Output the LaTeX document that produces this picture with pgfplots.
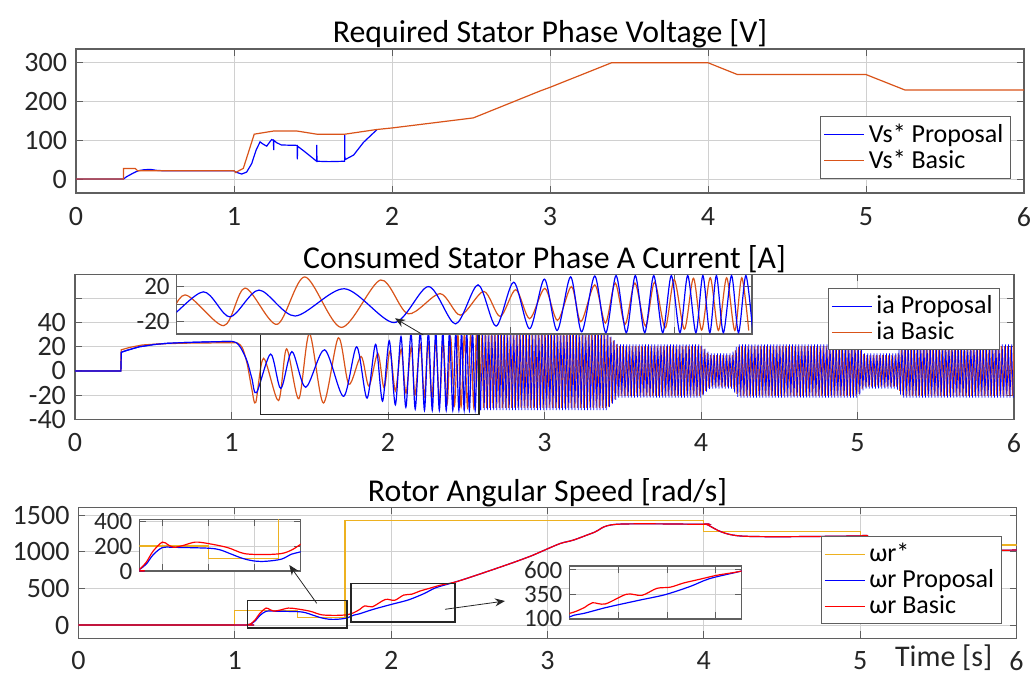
\documentclass[border=0pt]{standalone}
\usepackage{fontspec}
\setmainfont{Carlito}
\usepackage{pgfplots}
\pgfplotsset{compat=1.18}
\usepackage{pgfplotstable}
\usetikzlibrary{arrows.meta}

\definecolor{cProp}{RGB}{0,0,255}
\definecolor{cBasic}{RGB}{217,83,25}
\definecolor{cRef}{RGB}{237,177,32}
\definecolor{cRed}{RGB}{255,0,0}
\definecolor{cGrid}{RGB}{208,208,208}
\definecolor{cAx}{RGB}{95,95,95}

% ---- top panel: required stator phase voltage
\pgfplotstableread{
t v
0 0
0.30 0
0.32 6
0.36 15
0.394 21.5
0.43 24
0.47 25
0.51 22.5
0.55 21.5
1.0 21.5
1.01 18
1.049 13
1.08 18
1.112 40
1.14 75
1.165 96
1.185 90
1.207 85
1.225 95
1.238 102
1.25 100
1.251 75
1.252 100
1.27 94
1.30 88
1.40 87
1.401 51
1.402 85
1.45 70
1.523 46
1.524 88
1.525 46
1.60 45
1.70 46
1.701 114
1.702 50
1.757 62
1.82 95
1.903 127
}\vsProp
\pgfplotstableread{
t v
0 0
0.30 0
0.30 27.5
0.375 27.5
0.39 21.5
1.0 21.5
1.01 17
1.059 27.6
1.128 116
1.249 124
1.40 124
1.523 116
1.703 116
1.903 128
2.0 132
2.515 158
2.94 228
3.0 237
3.39 300.5
4.0 300.5
4.186 270
5.0 270
5.247 230
6.0 230
}\vsBasic

% ---- middle panel: phase A current
\pgfplotstableread{
t v
0 0
0.293 0
0.296 15.5
0.33 17
0.41 20
0.5 21.8
0.58 22.8
0.7 23.5
0.84 24
1.0 24.5
}\iaPropA
\pgfplotstableread{
t v
1.0 24.5
1.03 23.5
1.06 19
1.10 8
1.13 -6
1.16 -18
1.25 14
1.315 -14.5
1.386 16
1.474 -13.5
1.595 17.5
1.716 -21
1.80 20
1.866 -22.5
1.921 22
1.965 -25
2.008 25
2.047 -28
2.083 28.5
2.114 -30
2.147 31
2.174 -31.5
2.206 32
2.233 -32.5
2.258 32.5
2.283 -32.5
2.305 32.5
2.328 -32.5
2.35 32.5
2.372 -32.5
2.393 32.5
2.414 -32.5
2.433 32.5
2.453 -32.5
2.47 32.5
2.487 -32.5
2.503 32.5
2.52 -32.5
2.54 32.5
2.557 -32.5
2.575 32.5
2.592 -32.5
}\iaPropB
\pgfplotstableread[row sep=\\]{
t v\\
2.592 -32.5\\
2.605 32.5\\2.615 -32.5\\2.625 32.5\\2.635 -32.5\\2.645 32.5\\2.655 -32.5\\2.665 32.5\\2.675 -32.5\\2.685 32.5\\2.695 -32.5\\
2.705 32.5\\2.715 -32.5\\2.725 32.5\\2.735 -32.5\\2.745 32.5\\2.755 -32.5\\2.765 32.5\\2.775 -32.5\\2.785 32.5\\2.795 -32.5\\
2.805 32.5\\2.815 -32.5\\2.825 32.5\\2.835 -32.5\\2.845 32.5\\2.855 -32.5\\2.865 32.5\\2.875 -32.5\\2.885 32.5\\2.895 -32.5\\
2.905 32.5\\2.915 -32.5\\2.925 32.5\\2.935 -32.5\\2.945 32.5\\2.955 -32.5\\2.965 32.5\\2.975 -32.5\\2.985 32.5\\2.995 -32.5\\
3.005 32.5\\3.015 -32.5\\3.025 32.5\\3.035 -32.5\\3.045 32.5\\3.055 -32.5\\3.065 32.5\\3.075 -32.5\\3.085 32.5\\3.095 -32.5\\
3.105 32.5\\3.115 -32.5\\3.125 32.5\\3.135 -32.5\\3.145 32.5\\3.155 -32.5\\3.165 32.5\\3.175 -32.5\\3.185 32.5\\3.195 -32.5\\
3.205 32.5\\3.215 -32.5\\3.225 32.5\\3.235 -32.5\\3.245 32.5\\3.255 -32.5\\3.265 32.5\\3.275 -32.5\\3.285 32.5\\3.295 -32.5\\
3.305 32.5\\3.315 -32.5\\3.325 32.5\\3.335 -32.5\\3.345 32.5\\3.355 -32.5\\3.365 32.5\\3.375 -32.5\\3.385 32.5\\3.395 -32.5\\
3.405 31.5\\3.415 -30\\3.425 28.5\\3.435 -27\\3.445 25.5\\3.455 -24\\3.465 22.5\\3.475 -22\\3.485 22\\3.495 -22\\
3.505 22\\3.515 -22\\3.525 22\\3.535 -22\\3.545 22\\3.555 -22\\3.565 22\\3.575 -22\\3.585 22\\3.595 -22\\
3.605 22\\3.615 -22\\3.625 22\\3.635 -22\\3.645 22\\3.655 -22\\3.665 22\\3.675 -22\\3.685 22\\3.695 -22\\
3.705 22\\3.715 -22\\3.725 22\\3.735 -22\\3.745 22\\3.755 -22\\3.765 22\\3.775 -22\\3.785 22\\3.795 -22\\
3.805 22\\3.815 -22\\3.825 22\\3.835 -22\\3.845 22\\3.855 -22\\3.865 22\\3.875 -22\\3.885 22\\3.895 -22\\
3.905 22\\3.915 -22\\3.925 22\\3.935 -22\\3.945 22\\3.955 -22\\3.965 22\\3.975 -22\\3.985 22\\3.995 -22\\
4.005 21\\4.015 -20\\4.025 18.5\\4.035 -17\\4.045 16\\4.055 -15\\4.065 14.5\\4.075 -14.5\\4.085 14.5\\4.095 -14.5\\
4.105 14.5\\4.115 -14.5\\4.125 14.5\\4.135 -14.5\\4.145 14.5\\4.155 -14.5\\4.165 14.5\\4.175 -14.5\\4.185 14.5\\4.195 -14.5\\
4.205 16\\4.215 -18\\4.225 20\\4.235 -21.5\\4.245 22\\4.255 -22\\4.265 22\\4.275 -22\\4.285 22\\4.295 -22\\
4.305 22\\4.315 -22\\4.325 22\\4.335 -22\\4.345 22\\4.355 -22\\4.365 22\\4.375 -22\\4.385 22\\4.395 -22\\
4.405 22\\4.415 -22\\4.425 22\\4.435 -22\\4.445 22\\4.455 -22\\4.465 22\\4.475 -22\\4.485 22\\4.495 -22\\
4.505 22\\4.515 -22\\4.525 22\\4.535 -22\\4.545 22\\4.555 -22\\4.565 22\\4.575 -22\\4.585 22\\4.595 -22\\
4.605 22\\4.615 -22\\4.625 22\\4.635 -22\\4.645 22\\4.655 -22\\4.665 22\\4.675 -22\\4.685 22\\4.695 -22\\
4.705 22\\4.715 -22\\4.725 22\\4.735 -22\\4.745 22\\4.755 -22\\4.765 22\\4.775 -22\\4.785 22\\4.795 -22\\
4.805 22\\4.815 -22\\4.825 22\\4.835 -22\\4.845 22\\4.855 -22\\4.865 22\\4.875 -22\\4.885 22\\4.895 -22\\
4.905 22\\4.915 -22\\4.925 22\\4.935 -22\\4.945 22\\4.955 -22\\4.965 22\\4.975 -22\\4.985 22\\4.995 -22\\
5.005 21.5\\5.015 -19.5\\5.025 17.5\\5.035 -16\\5.045 14.5\\5.055 -14.5\\5.065 14.5\\5.075 -14.5\\5.085 14.5\\5.095 -14.5\\
5.105 14.5\\5.115 -14.5\\5.125 14.5\\5.135 -14.5\\5.145 14.5\\5.155 -14.5\\5.165 14.5\\5.175 -14.5\\5.185 14.5\\5.195 -14.5\\
5.205 14.5\\5.215 -14.5\\5.225 14.5\\5.235 -14.5\\5.245 14.5\\5.255 -15.5\\5.265 17.5\\5.275 -19.5\\5.285 21\\5.295 -22\\
5.305 22\\5.315 -22\\5.325 22\\5.335 -22\\5.345 22\\5.355 -22\\5.365 22\\5.375 -22\\5.385 22\\5.395 -22\\
5.405 22\\5.415 -22\\5.425 22\\5.435 -22\\5.445 22\\5.455 -22\\5.465 22\\5.475 -22\\5.485 22\\5.495 -22\\
5.505 22\\5.515 -22\\5.525 22\\5.535 -22\\5.545 22\\5.555 -22\\5.565 22\\5.575 -22\\5.585 22\\5.595 -22\\
5.605 22\\5.615 -22\\5.625 22\\5.635 -22\\5.645 22\\5.655 -22\\5.665 22\\5.675 -22\\5.685 22\\5.695 -22\\
5.705 22\\5.715 -22\\5.725 22\\5.735 -22\\5.745 22\\5.755 -22\\5.765 22\\5.775 -22\\5.785 22\\5.795 -22\\
5.805 22\\5.815 -22\\5.825 22\\5.835 -22\\5.845 22\\5.855 -22\\5.865 22\\5.875 -22\\5.885 22\\5.895 -22\\
5.905 22\\5.915 -22\\5.925 22\\5.935 -22\\5.945 22\\5.955 -22\\5.965 22\\5.975 -22\\5.985 22\\5.995 -22\\
}\iaPropC
\pgfplotstableread{
t v
0 0
0.292 0
0.295 17.5
0.35 19.5
0.43 21.5
0.55 22.5
0.7 23
0.85 23.2
1.0 23.4
}\iaBasicA
\pgfplotstableread{
t v
1.0 23.4
1.04 23
1.07 19
1.10 6
1.13 -15
1.155 -26
1.205 10.5
1.30 -24.5
1.352 18.3
1.43 -23
1.498 31
1.587 -26.5
1.683 27.5
1.750 -11
1.828 12
1.878 -12.5
1.935 14.5
1.975 -14
2.013 16.5
2.047 -16.5
2.084 18
2.115 -18.5
2.149 20
2.172 -20
2.206 22
2.232 -21.5
2.256 24
2.28 -23
2.304 24
2.33 -25
2.352 25
2.378 -27
2.40 28
2.425 -28.5
2.447 29.5
2.467 -29.5
2.488 30
2.508 -30
2.528 30
2.548 -30
2.565 30
2.582 -30
}\iaBasicB
\pgfplotstableread[row sep=\\]{
t v\\
2.582 -30\\
2.60 30.5\\2.61 -30.5\\2.62 30.5\\2.63 -30.5\\2.64 30.5\\2.65 -30.5\\2.66 30.5\\2.67 -30.5\\2.68 30.5\\2.69 -30.5\\
2.70 30.5\\2.71 -30.5\\2.72 30.5\\2.73 -30.5\\2.74 30.5\\2.75 -30.5\\2.76 30.5\\2.77 -30.5\\2.78 30.5\\2.79 -30.5\\
2.80 30.5\\2.81 -30.5\\2.82 30.5\\2.83 -30.5\\2.84 30.5\\2.85 -30.5\\2.86 30.5\\2.87 -30.5\\2.88 30.5\\2.89 -30.5\\
2.90 30.5\\2.91 -30.5\\2.92 30.5\\2.93 -30.5\\2.94 30.5\\2.95 -30.5\\2.96 30.5\\2.97 -30.5\\2.98 30.5\\2.99 -30.5\\
3.00 30.5\\3.01 -30.5\\3.02 30.5\\3.03 -30.5\\3.04 30.5\\3.05 -30.5\\3.06 30.5\\3.07 -30.5\\3.08 30.5\\3.09 -30.5\\
3.10 30.5\\3.11 -30.5\\3.12 30.5\\3.13 -30.5\\3.14 30.5\\3.15 -30.5\\3.16 30.5\\3.17 -30.5\\3.18 30.5\\3.19 -30.5\\
3.20 30.5\\3.21 -30.5\\3.22 30.5\\3.23 -30.5\\3.24 30.5\\3.25 -30.5\\3.26 30.5\\3.27 -30.5\\3.28 30.5\\3.29 -30.5\\
3.30 30.5\\3.31 -30.5\\3.32 30.5\\3.33 -30.5\\3.34 30.5\\3.35 -30.5\\3.36 30.5\\3.37 -30.5\\3.38 30.5\\3.39 -30.5\\
3.40 30.5\\3.41 -29.5\\3.42 28\\3.43 -26.5\\3.44 25\\3.45 -23.5\\3.46 22\\3.47 -21\\3.48 20.5\\3.49 -20.5\\
3.50 20.5\\3.51 -20.5\\3.52 20.5\\3.53 -20.5\\3.54 20.5\\3.55 -20.5\\3.56 20.5\\3.57 -20.5\\3.58 20.5\\3.59 -20.5\\
3.60 20.5\\3.61 -20.5\\3.62 20.5\\3.63 -20.5\\3.64 20.5\\3.65 -20.5\\3.66 20.5\\3.67 -20.5\\3.68 20.5\\3.69 -20.5\\
3.70 20.5\\3.71 -20.5\\3.72 20.5\\3.73 -20.5\\3.74 20.5\\3.75 -20.5\\3.76 20.5\\3.77 -20.5\\3.78 20.5\\3.79 -20.5\\
3.80 20.5\\3.81 -20.5\\3.82 20.5\\3.83 -20.5\\3.84 20.5\\3.85 -20.5\\3.86 20.5\\3.87 -20.5\\3.88 20.5\\3.89 -20.5\\
3.90 20.5\\3.91 -20.5\\3.92 20.5\\3.93 -20.5\\3.94 20.5\\3.95 -20.5\\3.96 20.5\\3.97 -20.5\\3.98 20.5\\3.99 -20.5\\
4.00 20.5\\4.01 -19.5\\4.02 18\\4.03 -16.5\\4.04 15\\4.05 -14\\4.06 13\\4.07 -13\\4.08 13\\4.09 -13\\
4.10 13\\4.11 -13\\4.12 13\\4.13 -13\\4.14 13\\4.15 -13\\4.16 13\\4.17 -13\\4.18 13\\4.19 -13\\
4.20 13\\4.21 -15\\4.22 17\\4.23 -19\\4.24 20\\4.25 -20.5\\4.26 20.5\\4.27 -20.5\\4.28 20.5\\4.29 -20.5\\
4.30 20.5\\4.31 -20.5\\4.32 20.5\\4.33 -20.5\\4.34 20.5\\4.35 -20.5\\4.36 20.5\\4.37 -20.5\\4.38 20.5\\4.39 -20.5\\
4.40 20.5\\4.41 -20.5\\4.42 20.5\\4.43 -20.5\\4.44 20.5\\4.45 -20.5\\4.46 20.5\\4.47 -20.5\\4.48 20.5\\4.49 -20.5\\
4.50 20.5\\4.51 -20.5\\4.52 20.5\\4.53 -20.5\\4.54 20.5\\4.55 -20.5\\4.56 20.5\\4.57 -20.5\\4.58 20.5\\4.59 -20.5\\
4.60 20.5\\4.61 -20.5\\4.62 20.5\\4.63 -20.5\\4.64 20.5\\4.65 -20.5\\4.66 20.5\\4.67 -20.5\\4.68 20.5\\4.69 -20.5\\
4.70 20.5\\4.71 -20.5\\4.72 20.5\\4.73 -20.5\\4.74 20.5\\4.75 -20.5\\4.76 20.5\\4.77 -20.5\\4.78 20.5\\4.79 -20.5\\
4.80 20.5\\4.81 -20.5\\4.82 20.5\\4.83 -20.5\\4.84 20.5\\4.85 -20.5\\4.86 20.5\\4.87 -20.5\\4.88 20.5\\4.89 -20.5\\
4.90 20.5\\4.91 -20.5\\4.92 20.5\\4.93 -20.5\\4.94 20.5\\4.95 -20.5\\4.96 20.5\\4.97 -20.5\\4.98 20.5\\4.99 -20.5\\
5.00 20.5\\5.01 -19\\5.02 17\\5.03 -15\\5.04 14\\5.05 -13\\5.06 13\\5.07 -13\\5.08 13\\5.09 -13\\
5.10 13\\5.11 -13\\5.12 13\\5.13 -13\\5.14 13\\5.15 -13\\5.16 13\\5.17 -13\\5.18 13\\5.19 -13\\
5.20 13\\5.21 -13\\5.22 13\\5.23 -13\\5.24 13\\5.25 -13\\5.26 14.5\\5.27 -16.5\\5.28 18.5\\5.29 -20\\
5.30 20.5\\5.31 -20.5\\5.32 20.5\\5.33 -20.5\\5.34 20.5\\5.35 -20.5\\5.36 20.5\\5.37 -20.5\\5.38 20.5\\5.39 -20.5\\
5.40 20.5\\5.41 -20.5\\5.42 20.5\\5.43 -20.5\\5.44 20.5\\5.45 -20.5\\5.46 20.5\\5.47 -20.5\\5.48 20.5\\5.49 -20.5\\
5.50 20.5\\5.51 -20.5\\5.52 20.5\\5.53 -20.5\\5.54 20.5\\5.55 -20.5\\5.56 20.5\\5.57 -20.5\\5.58 20.5\\5.59 -20.5\\
5.60 20.5\\5.61 -20.5\\5.62 20.5\\5.63 -20.5\\5.64 20.5\\5.65 -20.5\\5.66 20.5\\5.67 -20.5\\5.68 20.5\\5.69 -20.5\\
5.70 20.5\\5.71 -20.5\\5.72 20.5\\5.73 -20.5\\5.74 20.5\\5.75 -20.5\\5.76 20.5\\5.77 -20.5\\5.78 20.5\\5.79 -20.5\\
5.80 20.5\\5.81 -20.5\\5.82 20.5\\5.83 -20.5\\5.84 20.5\\5.85 -20.5\\5.86 20.5\\5.87 -20.5\\5.88 20.5\\5.89 -20.5\\
5.90 20.5\\5.91 -20.5\\5.92 20.5\\5.93 -20.5\\5.94 20.5\\5.95 -20.5\\5.96 20.5\\5.97 -20.5\\5.98 20.5\\5.99 -20.5\\
6.00 20.5\\
}\iaBasicC

% ---- bottom panel: rotor speed
\pgfplotstableread{
t v
0 0
1.0 0
1.0 200
1.4 200
1.4 100
1.705 100
1.705 1429
4.0 1429
4.0 1278
5.0 1278
5.0 1096
6.0 1096
}\wRef
\pgfplotstableread{
t v
0 0
1.05 0
1.08 3
1.10 12
1.13 55
1.16 130
1.20 188
1.25 190
1.40 183
1.45 170
1.497 137
1.55 100
1.60 80
1.65 78
1.716 95
1.76 135
1.80 155
1.886 215
2.015 290
2.112 345
2.21 430
2.285 510
2.404 585
2.5 650
2.6 722
2.7 795
2.8 870
2.9 950
2.954 1000
3.08 1115
3.167 1164
3.3 1270
3.44 1379
4.0 1379
4.02 1375
4.235 1219
5.0 1219
5.02 1215
5.25 1027
6.0 1027
}\wProp
\pgfplotstableread{
t v
0 0
1.05 0
1.08 4
1.10 13
1.13 70
1.16 160
1.20 232
1.225 210
1.25 190
1.29 205
1.343 232
1.40 220
1.483 188
1.555 140
1.642 132
1.716 140
1.76 168
1.80 215
1.83 262
1.88 250
1.963 350
2.022 338
2.08 410
2.132 422
2.184 465
2.249 505
2.314 545
2.404 585
2.5 650
2.6 722
2.7 795
2.8 870
2.9 950
2.954 1000
3.08 1115
3.167 1164
3.3 1270
3.44 1379
4.0 1379
4.02 1375
4.235 1219
5.0 1219
5.02 1215
5.25 1027
6.0 1027
}\wBasic

\pgfplotsset{
  legend image code/.code={\draw[mark repeat=2,mark phase=2,#1] plot coordinates {(0pt,0pt) (10pt,0pt) (20pt,0pt)};},
  base/.style={scale only axis, anchor=south west, grid=major,
    major grid style={cGrid,line width=0.5pt},
    axis line style={cAx,line width=0.6pt}, tick style={cAx,line width=0.5pt},
    major tick length=3.5pt,
    /pgf/number format/assume math mode=true, /pgf/number format/1000 sep={},
    tick label style={text=black!85},
    yticklabel style={inner ysep=0pt},
    every axis plot/.append style={line width=0.6pt}},
  panel/.style={base, xmin=0, xmax=6, xtick={0,1,...,6},
    tick label style={font=\fontsize{14}{15}\selectfont},
    xticklabel style={inner sep=1pt, yshift=-6pt}, yticklabel style={xshift=-1pt},
    every axis title shift=0pt,
    title style={font=\fontsize{15.9}{17}\selectfont, at={(0.5,1)}, anchor=base, yshift=3pt},
    legend cell align=left,
    legend style={font=\fontsize{13}{14}\selectfont, draw=cAx, fill=white,
      inner sep=1.5pt, row sep=-1.5pt}},
  inset/.style={base, xticklabels={}, axis background/.style={fill=white},
    tick label style={font=\fontsize{12.5}{13}\selectfont}},
}

\begin{document}
\begin{tikzpicture}
\useasboundingbox (0,0) rectangle (516pt,337.5pt);

% top
\begin{axis}[panel, at={(38pt,241pt)}, width=474pt, height=72pt,
  ymin=-36, ymax=336, ytick={0,100,200,300},
  title={Required Stator Phase Voltage [V]},
  legend style={at={(0.986,0.097)}, anchor=south east}]
  \addplot[color=cProp] table {\vsProp}; \addlegendentry{Vs* Proposal}
  \addplot[color=cBasic] table {\vsBasic}; \addlegendentry{Vs* Basic}
\end{axis}

% middle
\begin{axis}[panel, at={(37.5pt,127.85pt)}, width=469.5pt, height=72.5pt,
  ymin=-40, ymax=80, ytick={-40,-20,0,20,40,60}, yticklabels={-40,-20,0,20,40,{}},
  title={Consumed Stator Phase A Current [A]},
  legend style={at={(0.985,0.903)}, anchor=north east}]
  \addplot[color=cProp] table {\iaPropA}; \addlegendentry{ia Proposal}
  \addplot[color=cBasic] table {\iaBasicA}; \addlegendentry{ia Basic}
  \addplot[color=cBasic, smooth, forget plot] table {\iaBasicB};
  \addplot[color=cBasic, line width=0.5pt, forget plot] table {\iaBasicC};
  \addplot[color=cProp, forget plot] table {\iaPropA};
  \addplot[color=cProp, smooth, forget plot] table {\iaPropB};
  \addplot[color=cProp, line width=0.35pt, forget plot] table {\iaPropC};
  \draw[black!85, line width=0.8pt] (axis cs:1.185,-36) rectangle (axis cs:2.58,34);
\end{axis}

\begin{axis}[inset, at={(88.35pt,170.5pt)}, width=287.65pt, height=29.85pt,
  xmin=1.185, xmax=2.59, ymin=-34, ymax=34, xtick={2,2.4},
  ytick={-20,0,20}, yticklabels={-20,{},20}]
  \addplot[color=cBasic, smooth] table {\iaBasicB};
  \addplot[color=cProp, smooth] table {\iaPropB};
\end{axis}
\draw[-{Stealth[length=5pt,width=4pt]}, black!85, line width=0.4pt] (211.65pt,170pt) -- (197.5pt,178.35pt);

% bottom
\begin{axis}[panel, at={(39.25pt,18.35pt)}, width=469pt, height=65.5pt,
  ymin=-182, ymax=1612, ytick={0,500,1000,1500},
  xticklabel style={yshift=0.6pt},
  title={Rotor Angular Speed [rad/s]},
  legend style={at={(0.984,0.107)}, anchor=south east}]
  \addplot[color=cRef] table {\wRef}; \addlegendentry{ωr*}
  \addplot[color=cProp, smooth] table {\wProp}; \addlegendentry{ωr Proposal}
  \addplot[color=cRed, smooth] table {\wBasic}; \addlegendentry{ωr Basic}
  \draw[black!85, line width=0.8pt] (axis cs:1.081,-37) rectangle (axis cs:1.716,338);
  \draw[black!85, line width=0.8pt] (axis cs:1.743,45) rectangle (axis cs:2.409,571);
\end{axis}

\begin{axis}[inset, at={(69.65pt,52pt)}, width=80.7pt, height=25.85pt,
  xmin=1.1, xmax=1.8, ymin=0, ymax=415, xtick={1.2,1.4,1.6}, ytick={0,200,400}]
  \addplot[color=cRef] table {\wRef};
  \addplot[color=cProp, smooth] table {\wProp};
  \addplot[color=cRed, smooth] table {\wBasic};
\end{axis}

\begin{axis}[inset, at={(284.65pt,28pt)}, width=86.2pt, height=26.5pt,
  xmin=1.74, xmax=2.41, ymin=95, ymax=640, xtick={1.93,2.12,2.31}, ytick={100,350,600}]
  \addplot[color=cProp, smooth] table {\wProp};
  \addplot[color=cRed, smooth] table {\wBasic};
\end{axis}

\draw[-{Stealth[length=5pt,width=4pt]}, black!85, line width=0.4pt] (158.35pt,35.85pt) -- (144.65pt,55pt);
\draw[-{Stealth[length=5pt,width=4pt]}, black!85, line width=0.4pt] (222.5pt,32.85pt) -- (252.5pt,37pt);
\node[font=\fontsize{15}{16}\selectfont, text=black!85] at (471.85pt,8.8pt) {Time [s]};
\end{tikzpicture}
\end{document}
